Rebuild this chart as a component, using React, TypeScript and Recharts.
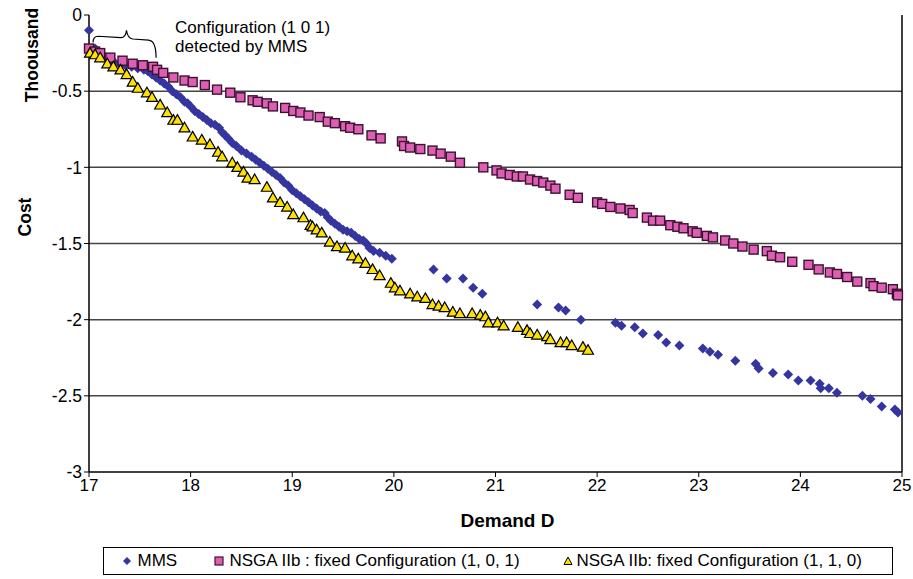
import React from "react";
import {
  ScatterChart,
  Scatter,
  XAxis,
  YAxis,
  ReferenceLine,
  ReferenceArea,
  Label,
} from "recharts";

// ---- Data (Demand D, Cost in thousands) ----
const mmsX = [
  17.0, 17.06, 17.1, 17.15, 17.2, 17.25, 17.3, 17.36, 17.42, 17.48, 17.54, 17.58, 17.62, 17.66,
  17.7, 17.74, 17.78, 17.82, 17.86, 17.9, 17.94, 17.97, 18.0, 18.04, 18.08, 18.12, 18.16, 18.2,
  18.24, 18.28, 18.31, 18.34, 18.37, 18.41, 18.45, 18.5, 18.55, 18.6, 18.64, 18.68, 18.72, 18.76,
  18.8, 18.84, 18.88, 18.92, 18.96, 19.0, 19.04, 19.08, 19.12, 19.16, 19.2, 19.24, 19.28, 19.32,
  19.35, 19.38, 19.42, 19.46, 19.5, 19.54, 19.58, 19.62, 19.66, 19.7, 19.73, 19.76, 19.8, 19.86,
  19.92, 19.98, 20.39, 20.52, 20.68, 20.78, 20.87, 21.41, 21.62, 21.69, 21.84, 22.18, 22.24,
  22.37, 22.45, 22.6, 22.68, 22.81, 23.04, 23.11, 23.19, 23.36, 23.56, 23.59, 23.73, 23.88,
  23.98, 24.1, 24.19, 24.2, 24.28, 24.36, 24.61, 24.69, 24.8, 24.93, 24.96,
];
const mmsY = [
  -0.1, -0.22, -0.25, -0.27, -0.29, -0.31, -0.32, -0.33, -0.34, -0.35, -0.36, -0.37, -0.39, -0.41,
  -0.43, -0.45, -0.47, -0.5, -0.52, -0.54, -0.57, -0.58, -0.6, -0.63, -0.65, -0.67, -0.69, -0.71,
  -0.72, -0.74, -0.77, -0.79, -0.81, -0.84, -0.86, -0.89, -0.91, -0.93, -0.95, -0.97, -0.99, -1.01,
  -1.03, -1.05, -1.07, -1.1, -1.12, -1.15, -1.17, -1.19, -1.21, -1.23, -1.25, -1.27, -1.29, -1.3,
  -1.33, -1.35, -1.37, -1.39, -1.41, -1.42, -1.43, -1.45, -1.47, -1.48, -1.5, -1.53, -1.55, -1.56,
  -1.58, -1.6, -1.67, -1.73, -1.73, -1.79, -1.83, -1.9, -1.92, -1.94, -2.0, -2.02, -2.04,
  -2.05, -2.09, -2.1, -2.15, -2.17, -2.19, -2.21, -2.23, -2.27, -2.29, -2.32, -2.35, -2.36,
  -2.4, -2.4, -2.42, -2.45, -2.45, -2.48, -2.5, -2.52, -2.57, -2.59, -2.61,
];

const cfg101X = [
  17.0, 17.06, 17.11, 17.21, 17.33, 17.43, 17.53, 17.63, 17.67, 17.73, 17.83, 17.94, 18.02, 18.14,
  18.26, 18.39, 18.49, 18.61, 18.66, 18.75, 18.81, 18.93, 19.01, 19.08, 19.16, 19.27, 19.35, 19.42,
  19.52, 19.57, 19.65, 19.78, 19.87, 20.08, 20.1, 20.16, 20.26, 20.38, 20.46, 20.56, 20.65, 20.88,
  21.01, 21.06, 21.14, 21.21, 21.27, 21.34, 21.41, 21.47, 21.54, 21.59, 21.73, 21.81, 22.0, 22.05,
  22.13, 22.23, 22.32, 22.35, 22.49, 22.55, 22.62, 22.72, 22.79, 22.85, 22.94, 22.98, 23.08, 23.14,
  23.26, 23.34, 23.43, 23.54, 23.67, 23.72, 23.8, 23.92, 24.08, 24.18, 24.29, 24.36, 24.46, 24.56,
  24.69, 24.72, 24.8, 24.91, 24.95, 24.96,
];
const cfg101Y = [
  -0.22, -0.24, -0.25, -0.28, -0.3, -0.32, -0.33, -0.34, -0.36, -0.38, -0.41, -0.43, -0.44, -0.46,
  -0.49, -0.51, -0.54, -0.56, -0.57, -0.58, -0.6, -0.61, -0.63, -0.64, -0.66, -0.67, -0.7, -0.71,
  -0.73, -0.74, -0.75, -0.79, -0.81, -0.83, -0.86, -0.87, -0.88, -0.89, -0.91, -0.93, -0.97, -1.0,
  -1.02, -1.04, -1.05, -1.06, -1.06, -1.08, -1.09, -1.1, -1.12, -1.14, -1.18, -1.2, -1.23, -1.24,
  -1.26, -1.27, -1.28, -1.3, -1.33, -1.35, -1.35, -1.38, -1.39, -1.4, -1.42, -1.43, -1.45, -1.46,
  -1.48, -1.5, -1.52, -1.54, -1.55, -1.58, -1.59, -1.62, -1.64, -1.67, -1.69, -1.7, -1.72, -1.75,
  -1.76, -1.78, -1.79, -1.8, -1.83, -1.84,
];

const cfg110X = [
  17.01, 17.06, 17.11, 17.18, 17.24, 17.31, 17.37, 17.43, 17.48, 17.57, 17.62, 17.7, 17.77, 17.83,
  17.87, 17.94, 18.02, 18.11, 18.19, 18.27, 18.31, 18.41, 18.46, 18.52, 18.56, 18.63, 18.75, 18.81,
  18.88, 18.95, 19.01, 19.11, 19.18, 19.2, 19.24, 19.29, 19.37, 19.44, 19.52, 19.59, 19.65, 19.72,
  19.79, 19.86, 19.97, 20.01, 20.06, 20.16, 20.23, 20.31, 20.38, 20.44, 20.5, 20.58, 20.65, 20.77,
  20.85, 20.9, 20.93, 21.02, 21.08, 21.22, 21.31, 21.34, 21.41, 21.51, 21.54, 21.64, 21.7, 21.75,
  21.86, 21.91,
];
const cfg110Y = [
  -0.25, -0.26, -0.28, -0.32, -0.34, -0.36, -0.39, -0.44, -0.48, -0.51, -0.54, -0.59, -0.64, -0.69,
  -0.69, -0.74, -0.8, -0.82, -0.85, -0.9, -0.93, -0.97, -1.0, -1.03, -1.07, -1.08, -1.13, -1.2,
  -1.23, -1.26, -1.31, -1.33, -1.38, -1.39, -1.41, -1.43, -1.49, -1.52, -1.53, -1.58, -1.6, -1.63,
  -1.67, -1.71, -1.76, -1.79, -1.81, -1.83, -1.85, -1.86, -1.9, -1.91, -1.92, -1.95, -1.96, -1.96,
  -1.97, -1.98, -2.02, -2.02, -2.04, -2.05, -2.07, -2.09, -2.1, -2.11, -2.13, -2.15, -2.15, -2.17,
  -2.18, -2.2,
];

const xTicks = [17, 18, 19, 20, 21, 22, 23, 24, 25];
const yTicks = [0, -0.5, -1, -1.5, -2, -2.5, -3];
const gridValues = [-0.5, -1, -1.5, -2, -2.5];

const seriesNames = [
  "MMS",
  "NSGA IIb : fixed Configuration (1, 0, 1)",
  "NSGA IIb: fixed Configuration (1, 1, 0)",
];

const toPoints = (xs: number[], ys: number[]) => xs.map((x, i) => ({ x, y: ys[i] }));
const mmsData = toPoints(mmsX, mmsY);
const cfg101Data = toPoints(cfg101X, cfg101Y);
const cfg110Data = toPoints(cfg110X, cfg110Y);

const BLUE = "#35359f";
const PINK = "#dd5fb4";
const YELLOW = "#ffe000";
const FONT = "'Liberation Sans', Arial, sans-serif";

const Diamond = (p: any) => {
  const { cx, cy } = p;
  const r = 5;
  return <path d={`M${cx},${cy - r}L${cx + r},${cy}L${cx},${cy + r}L${cx - r},${cy}Z`} fill={BLUE} />;
};
const Square = (p: any) => {
  const { cx, cy } = p;
  const s = 9;
  return (
    <rect x={cx - s / 2} y={cy - s / 2} width={s} height={s} fill={PINK} stroke="#3c1230" strokeWidth={1.4} />
  );
};
const Triangle = (p: any) => {
  const { cx, cy } = p;
  const r = 5.5;
  return (
    <path
      d={`M${cx},${cy - r}L${cx + r},${cy + r * 0.75}L${cx - r},${cy + r * 0.75}Z`}
      fill={YELLOW}
      stroke="#000"
      strokeWidth={1.2}
    />
  );
};

const BraceShape = (p: any) => {
  const { x, y, width: w, height: h } = p;
  const d = [
    `M${x},${y + 0.45 * h}`,
    `Q${x},${y + 0.22 * h} ${x + 0.08 * w},${y + 0.22 * h}`,
    `L${x + 0.44 * w},${y + 0.27 * h}`,
    `Q${x + 0.52 * w},${y + 0.27 * h} ${x + 0.53 * w},${y}`,
    `Q${x + 0.55 * w},${y + 0.3 * h} ${x + 0.63 * w},${y + 0.32 * h}`,
    `L${x + 0.88 * w},${y + 0.36 * h}`,
    `Q${x + w},${y + 0.38 * h} ${x + w},${y + h}`,
  ].join(" ");
  return (
    <g>
      <path d={d} fill="none" stroke="#000" strokeWidth={1.2} />
      <text x={x + w + 19} y={y + 3} fontFamily={FONT} fontSize={17} fill="#000">
        Configuration (1 0 1)
      </text>
      <text x={x + w + 19} y={y + 22} fontFamily={FONT} fontSize={17} fill="#000">
        detected by MMS
      </text>
    </g>
  );
};

const YLabels = (p: any) => {
  const vb = p.viewBox || {};
  const top = vb.y ?? 15;
  return (
    <g fontFamily={FONT} fontWeight="bold" fontSize={17.5} fill="#000">
      <text transform={`translate(32, ${top + 40}) rotate(-90)`} textAnchor="middle" dominantBaseline="central">
        Thoousand
      </text>
      <text transform={`translate(25, ${top + 202}) rotate(-90)`} textAnchor="middle" dominantBaseline="central">
        Cost
      </text>
    </g>
  );
};

const XLabel = (p: any) => {
  const vb = p.viewBox || {};
  return (
    <text
      x={vb.x + vb.width / 2 + 12}
      y={vb.y + 55}
      textAnchor="middle"
      fontFamily={FONT}
      fontWeight="bold"
      fontSize={19}
      fill="#000"
    >
      Demand D
    </text>
  );
};

const legendItems = [
  { sym: 24, txt: 35, text: seriesNames[0], symbol: <path d="M6,2L10,6L6,10L2,6Z" fill={BLUE} /> },
  {
    sym: 116,
    txt: 127,
    text: seriesNames[1],
    symbol: <rect x={2} y={2} width={8} height={8} fill={PINK} stroke="#3c1230" strokeWidth={1.2} />,
  },
  {
    sym: 465,
    txt: 474,
    text: seriesNames[2],
    symbol: <path d="M6,2L10,9.5L2,9.5Z" fill={YELLOW} stroke="#000" strokeWidth={1} />,
  },
];

export default function App() {
  return (
    <div style={{ position: "relative", width: 913, height: 579, fontFamily: FONT, overflow: "hidden" }}>
      <style>{`html, body { margin: 0; padding: 0; overflow: hidden; } .recharts-surface { overflow: visible; }`}</style>
      <ScatterChart width={913} height={579} margin={{ top: 15, right: 11, left: 0, bottom: 0 }}>
        <XAxis
          type="number"
          dataKey="x"
          domain={[17, 25]}
          ticks={xTicks}
          interval={0}
          height={107}
          axisLine={{ stroke: "#000", strokeWidth: 1.5 }}
          tickLine={{ stroke: "#000" }}
          tickSize={5}
          tick={{ fill: "#000", fontSize: 17, fontFamily: FONT }}
        >
          <Label content={XLabel} />
        </XAxis>
        <YAxis
          type="number"
          dataKey="y"
          domain={[-3, 0]}
          ticks={yTicks}
          interval={0}
          width={89}
          axisLine={{ stroke: "#000", strokeWidth: 1.5 }}
          tickLine={{ stroke: "#000" }}
          tickSize={5}
          tick={{ fill: "#000", fontSize: 17.5, fontFamily: FONT }}
          tickFormatter={(v: number) => String(v)}
        >
          <Label content={YLabels} />
        </YAxis>
        {gridValues.map((v) => (
          <ReferenceLine key={v} y={v} stroke="#444" strokeWidth={1.5} />
        ))}
        <ReferenceLine x={25} stroke="#000" strokeWidth={1.5} />
        <ReferenceArea x1={17.04} x2={17.66} y1={-0.28} y2={-0.1} shape={BraceShape} />
        <Scatter name={seriesNames[0]} data={mmsData} shape={Diamond} isAnimationActive={false} />
        <Scatter name={seriesNames[1]} data={cfg101Data} shape={Square} isAnimationActive={false} />
        <Scatter name={seriesNames[2]} data={cfg110Data} shape={Triangle} isAnimationActive={false} />
      </ScatterChart>
      <div
        style={{
          position: "absolute",
          left: 103,
          top: 547,
          width: 790,
          height: 28,
          border: "1.5px solid #000",
          boxSizing: "border-box",
          fontSize: 17,
          color: "#000",
          whiteSpace: "nowrap",
        }}
      >
        {legendItems.map((it) => (
          <React.Fragment key={it.text}>
            <svg
              width={12}
              height={12}
              style={{ position: "absolute", left: it.sym - 6 - 1.5, top: 6.5 }}
            >
              {it.symbol}
            </svg>
            <span style={{ position: "absolute", left: it.txt - 1.5, top: 2.5, lineHeight: "20px" }}>{it.text}</span>
          </React.Fragment>
        ))}
      </div>
    </div>
  );
}
